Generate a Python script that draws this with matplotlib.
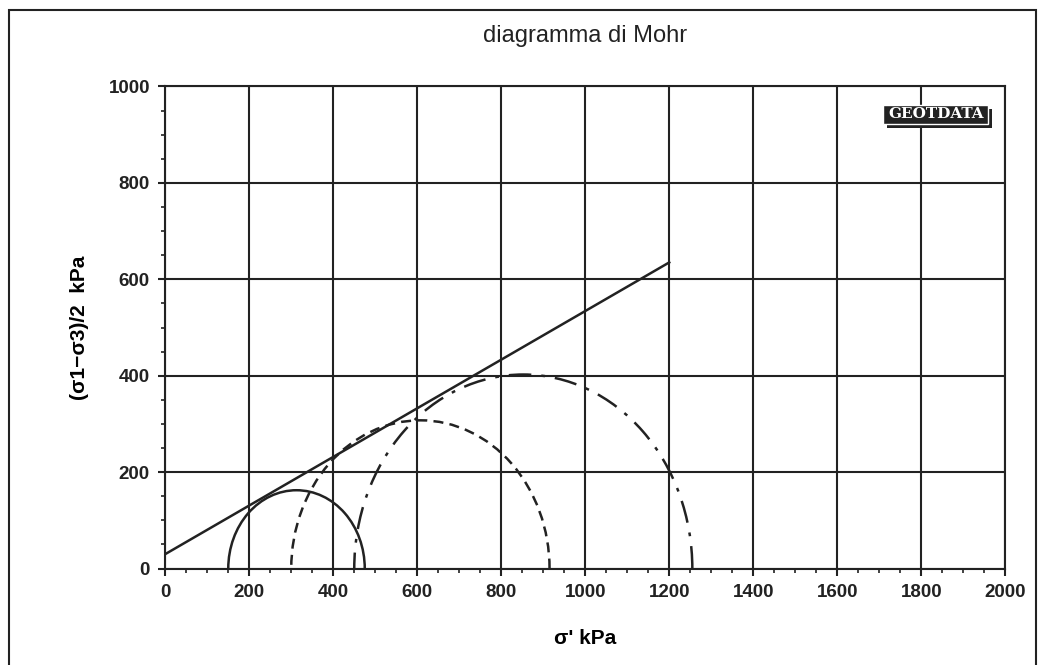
import matplotlib
matplotlib.use("Agg")
import matplotlib.pyplot as plt
from matplotlib.patches import Arc, Rectangle
from matplotlib.ticker import MultipleLocator

plt.rcParams['font.family'] = ['Liberation Sans', 'DejaVu Sans']

# principal stresses of the three tests (kPa)
sigma3 = [150, 300, 450]
sigma1 = [475, 915, 1255]
styles = ['-', (0, (4, 2.5)), (0, (9, 4, 1.5, 4))]

# failure envelope
env_x = [0, 1200]
env_y = [30, 635]

fig = plt.figure(figsize=(10.46, 6.65), dpi=100)
ax = fig.add_axes([0.158, 0.145, 0.803, 0.725])

for s3, s1, ls in zip(sigma3, sigma1, styles):
    c = (s1 + s3) / 2
    d = s1 - s3
    ax.add_patch(Arc((c, 0), d, d, theta1=0, theta2=180,
                     color='#222222', lw=1.8, linestyle=ls))

ax.plot(env_x, env_y, color='#222222', lw=1.8)

ax.set_xlim(0, 2000)
ax.set_ylim(0, 1000)
ax.xaxis.set_major_locator(MultipleLocator(200))
ax.yaxis.set_major_locator(MultipleLocator(200))
ax.xaxis.set_minor_locator(MultipleLocator(50))
ax.yaxis.set_minor_locator(MultipleLocator(50))
ax.grid(True, which='major', color='#222222', lw=1.5)
ax.tick_params(which='major', direction='out', length=5, width=1.5,
               labelsize=13.5, colors='#222222', pad=6)
ax.tick_params(which='minor', direction='out', length=3, width=1.2,
               colors='#222222')
for lab in ax.get_xticklabels() + ax.get_yticklabels():
    lab.set_fontweight('bold')
for sp in ax.spines.values():
    sp.set_linewidth(1.5)
    sp.set_color('#222222')

ax.set_xlabel("σ' kPa", fontsize=15, fontweight='bold', labelpad=20)
ax.set_ylabel("(σ1−σ3)/2  kPa", fontsize=15, fontweight='bold', labelpad=14)
ax.set_title("diagramma di Mohr", fontsize=17, pad=32, color='#222222')

# logo in the top right corner: shadow, dark box, white lettering
ax.add_patch(Rectangle((0.859, 0.913), 0.125, 0.04, transform=ax.transAxes,
                       fc='#222222', ec='none', zorder=5, clip_on=False))
ax.add_patch(Rectangle((0.855, 0.922), 0.125, 0.04, transform=ax.transAxes,
                       fc='#222222', ec='white', lw=1, zorder=6,
                       clip_on=False))
ax.text(0.9175, 0.942, "GEOTDATA", transform=ax.transAxes, ha='center',
        va='center', fontsize=11, fontweight='bold', family='DejaVu Serif',
        color='white', zorder=7)

# outer frame of the chart
fig.patches.append(Rectangle((0.009, -0.02), 0.981, 1.005,
                             transform=fig.transFigure, fill=False,
                             ec='#222222', lw=1.5))

fig.savefig("out.png", dpi=100)
